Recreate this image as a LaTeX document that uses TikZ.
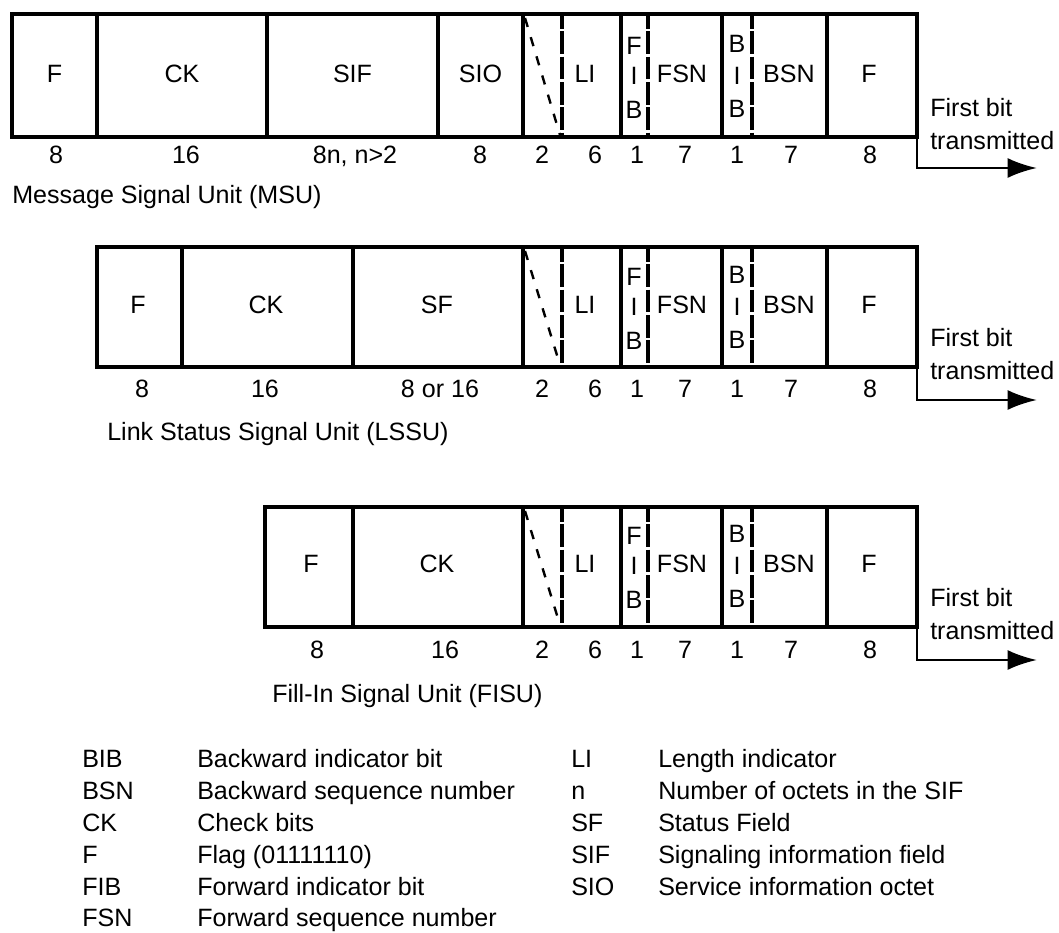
\documentclass[tikz,border=0pt]{standalone}
\usepackage{fontspec}
\setmainfont{Liberation Sans}
\usetikzlibrary{arrows.meta}
% right-hand part shared by the three signal units
% #1 prefix, #2 top, #3 bottom, #4 field baseline, #5 number baseline, #6 arrow y
\newcommand{\suright}[6]{%
  \draw[div] (523,#2) -- (523,#3);
  \draw[diag] (525,#2+4) -- (560,#3-2);
  \draw[ddiv] (562,#2) -- (562,#3);
  \draw[div] (621,#2) -- (621,#3);
  \draw[ddiv] (648,#2) -- (648,#3);
  \draw[div] (722,#2) -- (722,#3);
  \draw[ddiv] (752,#2) -- (752,#3);
  \draw[div] (827,#2) -- (827,#3);
  \node[lbl] (#1li) at (585,#4) {LI};
  \node[lbl] (#1fibf) at (634,#4-28) {F};
  \node[lbl] (#1fibi) at (634,#4+2) {I};
  \node[lbl] (#1fibb) at (634,#4+36) {B};
  \node[lbl] (#1fsn) at (682,#4) {FSN};
  \node[lbl] (#1bibb) at (737,#4-30) {B};
  \node[lbl] (#1bibi) at (737,#4+2) {I};
  \node[lbl] (#1bibc) at (737,#4+35) {B};
  \node[lbl] (#1bsn) at (789,#4) {BSN};
  \node[lbl] (#1fe) at (869,#4) {F};
  \node[lbl] (#1na) at (542,#5) {2};
  \node[lbl] (#1nb) at (595,#5) {6};
  \node[lbl] (#1nc) at (637,#5) {1};
  \node[lbl] (#1nd) at (685,#5) {7};
  \node[lbl] (#1ne) at (737,#5) {1};
  \node[lbl] (#1nf) at (791,#5) {7};
  \node[lbl] (#1ng) at (870,#5) {8};
  \coordinate (#1se) at (917,#3);
  \coordinate (#1bend) at (917,#6);
  \coordinate (#1end) at (1037,#6);
  \draw[arr] (#1se) -- (#1bend) -- (#1end);
  \node[lbl,anchor=base west] (#1fb) at (930,#3-21) {First bit};
  \node[lbl,anchor=base west] (#1tx) at (930,#3+12) {transmitted};
}
\begin{document}
\begin{tikzpicture}[x=0.75pt,y=-0.75pt,
  frame/.style={draw,line width=2.8pt},
  div/.style={line width=2.6pt},
  ddiv/.style={line width=2.6pt,dash pattern=on 17pt off 2pt,dash phase=6pt},
  diag/.style={line width=1.8pt,dash pattern=on 7pt off 8pt},
  lbl/.style={font=\fontsize{18.8}{22}\selectfont,inner sep=0pt,anchor=base},
  leg/.style={lbl,anchor=base west},
  arr/.style={line width=2.2pt,-{Latex[length=22pt,width=15pt]}}]
\useasboundingbox (0,0) rectangle (1059,932);

% ---------- MSU ----------
\draw[frame] (12,14) rectangle (917,137);
\draw[div] (97,14) -- (97,137);
\draw[div] (267,14) -- (267,137);
\draw[div] (438,14) -- (438,137);
\node[lbl] (mf) at (54.5,82) {F};
\node[lbl] (mck) at (182,82) {CK};
\node[lbl] (msif) at (352.5,82) {SIF};
\node[lbl] (msio) at (480.5,82) {SIO};
\node[lbl] (mn1) at (56,163) {8};
\node[lbl] (mn2) at (186,163) {16};
\node[lbl] (mn3) at (355,163) {8n, n>2};
\node[lbl] (mn4) at (480,163) {8};
\suright{m}{14}{137}{82}{163}{168}
\node[leg] (mlabel) at (12,203) {Message Signal Unit (MSU)};

% ---------- LSSU ----------
\draw[frame] (97,247) rectangle (917,367);
\draw[div] (182,247) -- (182,367);
\draw[div] (353,247) -- (353,367);
\node[lbl] (lf) at (138,313) {F};
\node[lbl] (lck) at (266,313) {CK};
\node[lbl] (lsf) at (437,313) {SF};
\node[lbl] (ln1) at (142,397) {8};
\node[lbl] (ln2) at (265,397) {16};
\node[lbl] (ln3) at (440,397) {8 or 16};
\suright{l}{247}{367}{313}{397}{400}
\node[leg] (llabel) at (107,440) {Link Status Signal Unit (LSSU)};

% ---------- FISU ----------
\draw[frame] (265,507) rectangle (917,627);
\draw[div] (353,507) -- (353,627);
\node[lbl] (ff) at (311,572) {F};
\node[lbl] (fck) at (437,572) {CK};
\node[lbl] (fn1) at (317,658) {8};
\node[lbl] (fn2) at (445,658) {16};
\suright{f}{507}{627}{572}{658}{660}
\node[leg] (flabel) at (272,702) {Fill-In Signal Unit (FISU)};

% ---------- legend ----------
\node[leg] (a1) at (82,767) {BIB};
\node[leg] (d1) at (197,767) {Backward indicator bit};
\node[leg] (a2) at (82,799) {BSN};
\node[leg] (d2) at (197,799) {Backward sequence number};
\node[leg] (a3) at (82,831) {CK};
\node[leg] (d3) at (197,831) {Check bits};
\node[leg] (a4) at (82,863) {F};
\node[leg] (d4) at (197,863) {Flag (01111110)};
\node[leg] (a5) at (82,895) {FIB};
\node[leg] (d5) at (197,895) {Forward indicator bit};
\node[leg] (a6) at (82,926) {FSN};
\node[leg] (d6) at (197,926) {Forward sequence number};

\node[leg] (b1) at (571,767) {LI};
\node[leg] (e1) at (658,767) {Length indicator};
\node[leg] (b2) at (571,799) {n};
\node[leg] (e2) at (658,799) {Number of octets in the SIF};
\node[leg] (b3) at (571,831) {SF};
\node[leg] (e3) at (658,831) {Status Field};
\node[leg] (b4) at (571,863) {SIF};
\node[leg] (e4) at (658,863) {Signaling information field};
\node[leg] (b5) at (571,895) {SIO};
\node[leg] (e5) at (658,895) {Service information octet};
\end{tikzpicture}
\end{document}
